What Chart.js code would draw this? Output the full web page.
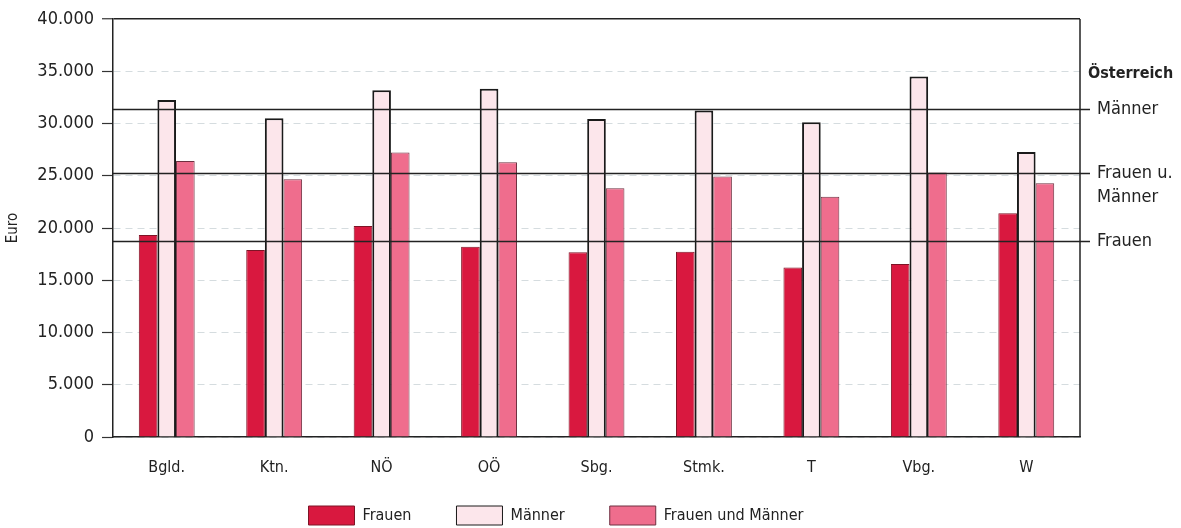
<!DOCTYPE html>
<html lang="de">
<head>
<meta charset="utf-8">
<title>Einkommen nach Bundesland</title>
<script src="https://cdn.jsdelivr.net/npm/chart.js@4.4.1/dist/chart.umd.min.js"></script>
<style>
  html, body { margin: 0; padding: 0; background: #ffffff; }
  #wrap { width: 1181px; height: 528px; }
</style>
</head>
<body>
<div id="wrap"><canvas id="chart" width="1181" height="528"></canvas></div>
<script>
// Bundesländer
const categories = ['Bgld.', 'Ktn.', 'NÖ', 'OÖ', 'Sbg.', 'Stmk.', 'T', 'Vbg.', 'W'];

// Euro je Bundesland
const frauen        = [19330, 17900, 20190, 18210, 17670, 17730, 16230, 16550, 21410];
const maenner       = [32260, 30510, 33180, 33320, 30420, 31240, 30130, 34500, 27280];
const frauenMaenner = [26420, 24660, 27230, 26300, 23800, 24920, 22990, 25300, 24280];

// Österreich-Werte als Referenzlinien
const austriaValues = [31340, 25240, 18750];
const austriaLabels = [['Männer'], ['Frauen u.', 'Männer'], ['Frauen']];
const austriaTitle = 'Österreich';

// Achse
const yTicks = [0, 5000, 10000, 15000, 20000, 25000, 30000, 35000, 40000];
const yTitle = 'Euro';

const FONT = '"DejaVu Sans Condensed", "DejaVu Sans", sans-serif';

const fmt = v => String(v).replace(/\B(?=(\d{3})+(?!\d))/g, '.');

// Österreich-Linien, Beschriftung rechts und rechter Rahmen
const austriaPlugin = {
  id: 'austriaLines',
  afterDatasetsDraw(chart) {
    const { ctx, chartArea, scales } = chart;
    ctx.save();
    ctx.strokeStyle = '#222';
    ctx.lineWidth = 1.5;
    ctx.beginPath();
    ctx.moveTo(chartArea.right, chartArea.top);
    ctx.lineTo(chartArea.right, chartArea.bottom);
    ctx.stroke();

    ctx.font = '18px ' + FONT;
    ctx.fillStyle = '#222';
    ctx.textAlign = 'left';
    ctx.textBaseline = 'middle';
    austriaValues.forEach((v, i) => {
      const y = Math.round(scales.y.getPixelForValue(v)) + 0.5;
      ctx.lineWidth = 1.6;
      ctx.beginPath();
      ctx.moveTo(chartArea.left, y);
      ctx.lineTo(chartArea.right + 10, y);
      ctx.stroke();
      austriaLabels[i].forEach((t, j) => {
        ctx.fillText(t, chartArea.right + 17, y + j * 24);
      });
    });
    const yTop = scales.y.getPixelForValue(austriaValues[0]);
    ctx.font = 'bold 16px ' + FONT;
    ctx.fillText(austriaTitle, chartArea.right + 8, yTop - 36);
    ctx.restore();
  }
};

// Legende näher an die Achsenbeschriftung rücken
const legendLift = {
  id: 'legendLift',
  afterLayout(chart) {
    const l = chart.legend;
    if (l) { l.top -= 15; }
  }
};

new Chart(document.getElementById('chart'), {
  type: 'bar',
  data: {
    labels: categories,
    datasets: [
      {
        label: 'Frauen',
        data: frauen,
        backgroundColor: '#d9183f',
        borderColor: '#7e1426',
        borderWidth: 1,
        borderSkipped: 'bottom'
      },
      {
        label: 'Männer',
        data: maenner,
        backgroundColor: '#fce6eb',
        borderColor: '#1a1a1a',
        borderWidth: 2,
        borderSkipped: 'bottom'
      },
      {
        label: 'Frauen und Männer',
        data: frauenMaenner,
        backgroundColor: '#ef6d8d',
        borderColor: '#6e3040',
        borderWidth: 1,
        borderSkipped: 'bottom'
      }
    ]
  },
  options: {
    responsive: false,
    devicePixelRatio: 1,
    animation: false,
    categoryPercentage: 0.52,
    barPercentage: 1.0,
    layout: { padding: { left: 32, right: 101, top: 19, bottom: 0 } },
    plugins: {
      tooltip: { enabled: false },
      legend: {
        position: 'bottom',
        maxHeight: 52,
        labels: {
          boxWidth: 46,
          boxHeight: 19,
          padding: 45,
          color: '#222',
          font: { family: FONT, size: 16 },
          generateLabels(chart) {
            return Chart.defaults.plugins.legend.labels.generateLabels(chart)
              .map(item => Object.assign(item, { lineWidth: 1 }));
          }
        }
      }
    },
    scales: {
      x: {
        grid: { display: false, drawTicks: false },
        border: { display: true, color: '#222', width: 1.5 },
        ticks: { color: '#222', padding: 21, font: { family: FONT, size: 16 } },
        afterFit(scale) { scale.height = 39; }
      },
      y: {
        min: 0,
        max: 40000,
        afterBuildTicks(scale) { scale.ticks = yTicks.map(v => ({ value: v })); },
        grid: {
          color: c => (c.tick && c.tick.value === 40000) ? '#222' : '#d5dcdf',
          lineWidth: c => (c.tick && c.tick.value === 40000) ? 1.5 : 1,
          tickColor: '#333',
          tickLength: 11,
          tickWidth: 1.2
        },
        border: {
          display: true,
          color: '#222',
          width: 1.5,
          dash: c => (c.tick && c.tick.value === 40000) ? [] : [7, 5]
        },
        ticks: {
          color: '#222',
          padding: 8,
          font: { family: FONT, size: 18 },
          callback: v => fmt(v)
        },
        title: {
          display: true,
          text: yTitle,
          color: '#222',
          font: { family: FONT, size: 15 },
          padding: { top: -28, bottom: 0 }
        },
        afterFit(scale) { scale.width = 81; }
      }
    }
  },
  plugins: [austriaPlugin, legendLift]
});
</script>
</body>
</html>
